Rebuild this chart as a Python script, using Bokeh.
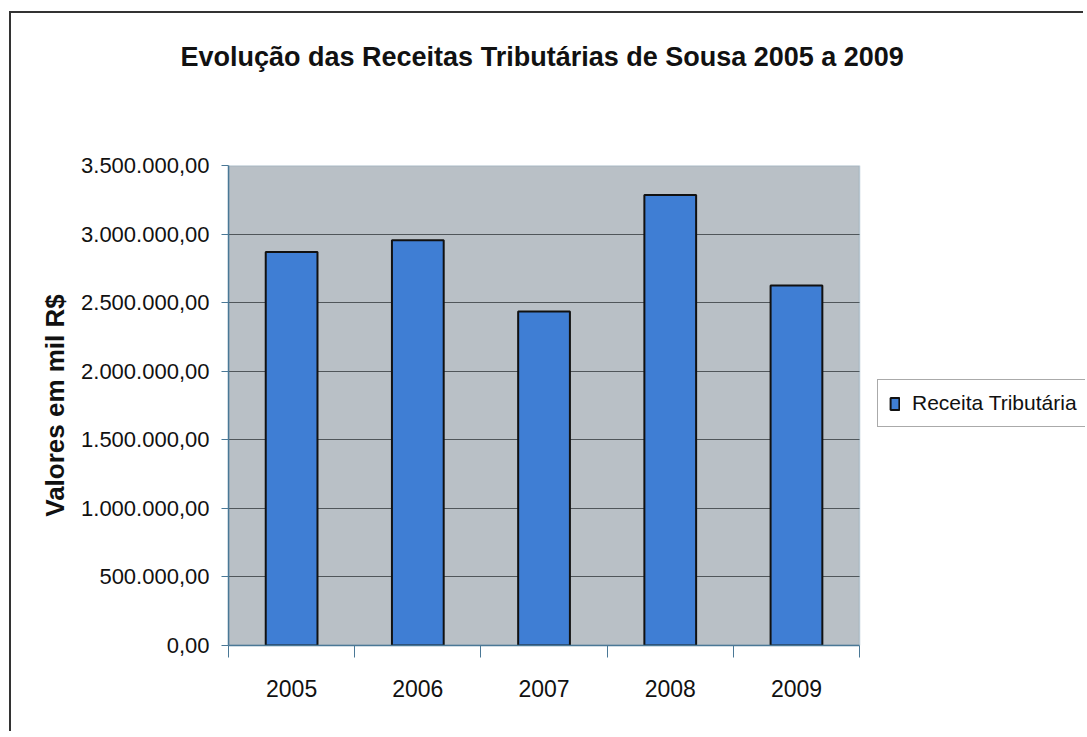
from bokeh.plotting import figure
from bokeh.models import FixedTicker, Legend, LegendItem, Range1d, BoxAnnotation, Title
from bokeh.embed import file_html
from bokeh.resources import INLINE

# ---- data ----
years = ["2005", "2006", "2007", "2008", "2009"]
receita = [2870000, 2955000, 2435000, 3285000, 2625000]
y_ticks = [0, 500000, 1000000, 1500000, 2000000, 2500000, 3000000, 3500000]
y_tick_labels = ["0,00", "500.000,00", "1.000.000,00", "1.500.000,00",
                 "2.000.000,00", "2.500.000,00", "3.000.000,00", "3.500.000,00"]
title_text = "Evolução das Receitas Tributárias de Sousa 2005 a 2009"
y_label = "Valores em mil R$"
series_name = "Receita Tributária"

xpos = [i + 1 for i in range(len(years))]
x_lo, x_hi = 0.5, len(years) + 0.5
FONT = "Liberation Sans"
AXIS_BLUE = "#4a7896"

p = figure(width=1074, height=720, output_backend="svg", toolbar_location=None,
           x_range=Range1d(x_lo, 7.29), y_range=Range1d(0, y_ticks[-1]),
           min_border_left=217, min_border_right=0, min_border_top=150,
           min_border_bottom=88, title=title_text)
p.margin = (11, 0, 0, 9)
p.styles = {"border-left": "2px solid #333333", "border-top": "2px solid #333333"}

p.title.text_font = FONT
p.title.text_font_size = "27px"
p.title.text_font_style = "bold"
p.title.align = "left"
p.title.offset = -48
p.title.text_color = "#111111"
p.title.standoff = 52

# blank spacer between the title and the plot area
p.add_layout(Title(text=" ", text_font_size="2px", standoff=64), "above")

p.background_fill_color = "white"
p.border_fill_color = "white"
p.outline_line_color = None

# plot area (grey panel) limited to the category span
p.add_layout(BoxAnnotation(left=x_lo, right=x_hi, fill_color="#b9c0c6", fill_alpha=1,
                           line_color=None, level="image"))

r = p.vbar(x=xpos, top=receita, width=0.41, bottom=0,
           fill_color="#3f7ed4", line_color="#111111", line_width=2)

# grid
p.xgrid.grid_line_color = None
p.ygrid.ticker = FixedTicker(ticks=y_ticks)
p.ygrid.grid_line_color = "#50565a"
p.ygrid.grid_line_width = 1

# white mask right of the plot area (hides grid lines there), then the plot-area outline
p.add_layout(BoxAnnotation(left=x_hi, fill_color="white", fill_alpha=1,
                           line_color=None, level="underlay"))
p.add_layout(BoxAnnotation(left=x_lo, right=x_hi, fill_color=None, fill_alpha=0,
                           line_color=AXIS_BLUE, line_width=1.5, level="underlay"))

# x axis
p.xaxis.ticker = FixedTicker(ticks=xpos, minor_ticks=[x - 0.5 for x in xpos] + [x_hi])
p.xaxis.major_label_overrides = {x: y for x, y in zip(xpos, years)}
p.xaxis.bounds = (x_lo, x_hi)
p.xaxis.major_tick_line_color = None
p.xaxis.major_tick_out = 0
p.xaxis.major_tick_in = 0
p.xaxis.minor_tick_line_color = AXIS_BLUE
p.xaxis.minor_tick_out = 12
p.xaxis.minor_tick_in = 0
p.xaxis.axis_line_color = AXIS_BLUE
p.xaxis.axis_line_width = 1.5
p.xaxis.major_label_text_font = FONT
p.xaxis.major_label_text_font_size = "23px"
p.xaxis.major_label_text_color = "#111111"
p.xaxis.major_label_standoff = 22

# y axis
p.yaxis.ticker = FixedTicker(ticks=y_ticks)
p.yaxis.major_label_overrides = {t: l for t, l in zip(y_ticks, y_tick_labels)}
p.yaxis.minor_tick_line_color = None
p.yaxis.major_tick_out = 7
p.yaxis.major_tick_in = 0
p.yaxis.major_tick_line_color = AXIS_BLUE
p.yaxis.axis_line_color = AXIS_BLUE
p.yaxis.axis_line_width = 1.5
p.yaxis.major_label_text_font = FONT
p.yaxis.major_label_text_font_size = "22px"
p.yaxis.major_label_text_color = "#111111"
p.yaxis.major_label_standoff = 12
p.yaxis.axis_label = y_label
p.yaxis.axis_label_text_font = FONT
p.yaxis.axis_label_text_font_size = "26px"
p.yaxis.axis_label_text_font_style = "bold"
p.yaxis.axis_label_text_color = "#111111"
p.yaxis.axis_label_standoff = 8

legend = Legend(items=[LegendItem(label=series_name, renderers=[r])],
                location=(649, 218), orientation="vertical")
legend.label_text_font = FONT
legend.label_text_font_size = "21px"
legend.label_text_color = "#111111"
legend.glyph_width = 11
legend.glyph_height = 15
legend.label_standoff = 12
legend.padding = 11
legend.margin = 0
legend.border_line_color = "#555555"
legend.border_line_width = 1
legend.background_fill_color = "white"
legend.background_fill_alpha = 1
p.add_layout(legend, "center")

open("out.html", "w").write(file_html(p, INLINE))
